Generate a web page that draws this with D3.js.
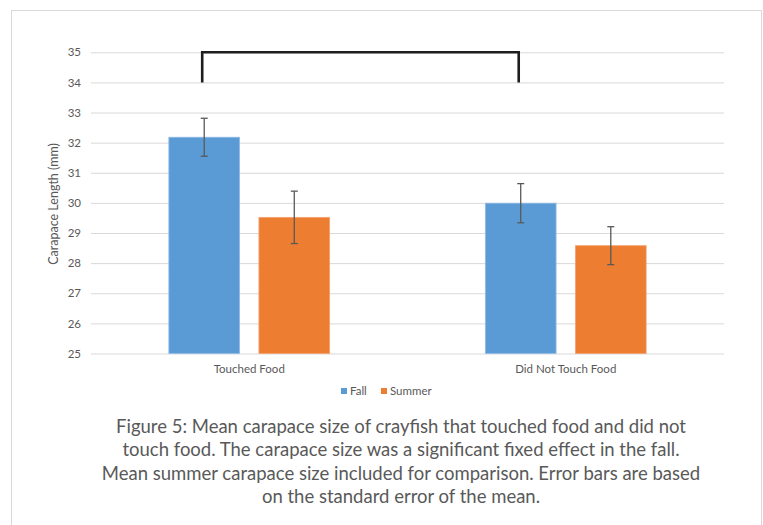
<!DOCTYPE html>
<html>
<head>
<meta charset="utf-8">
<script src="https://cdn.jsdelivr.net/npm/d3@7/dist/d3.min.js"></script>
<style>
  html, body { margin: 0; padding: 0; background: #fff; }
  svg { display: block; }
  text { font-family: Lato, "Open Sans", sans-serif; }
</style>
</head>
<body>
<svg id="chart" width="763" height="525"></svg>
<script>
// Mean carapace length (mm) by feeding behaviour and season
const categories = ["Touched Food", "Did Not Touch Food"];
const seriesNames = ["Fall", "Summer"];
const fallMeans = [32.18, 29.99];
const summerMeans = [29.52, 28.58];
const fallSE = [0.63, 0.65];
const summerSE = [0.87, 0.63];
const yTicks = [25, 26, 27, 28, 29, 30, 31, 32, 33, 34, 35];
const captionLines = [
  "Figure 5: Mean carapace size of crayfish that touched food and did not",
  "touch food. The carapace size was a significant fixed effect in the fall.",
  "Mean summer carapace size included for comparison. Error bars are based",
  "on the standard error of the mean."
];
const colors = ["#5B9BD5", "#ED7D31"];

const svg = d3.select("#chart");

// outer frame
svg.append("rect")
  .attr("x", 11.5).attr("y", 10.5)
  .attr("width", 750).attr("height", 530)
  .attr("fill", "#fff").attr("stroke", "#d9d9d9").attr("stroke-width", 1);

const plot = { left: 91, right: 724, top: 52.3, bottom: 353.5 };

const y = d3.scaleLinear().domain([25, 35]).range([plot.bottom, plot.top]);
const x0 = d3.scaleBand().domain(categories).range([plot.left, plot.right]).paddingInner(0).paddingOuter(0);
// bar group inside each category band
const groupWidth = x0.bandwidth() * 0.508;
const x1 = d3.scaleBand().domain(seriesNames)
  .range([0, groupWidth]).paddingInner(0.215).paddingOuter(0);

// gridlines and tick labels
const yAxis = d3.axisLeft(y).tickValues(yTicks).tickSize(-(plot.right - plot.left)).tickPadding(10);
const gy = svg.append("g").attr("transform", `translate(${plot.left},0)`).call(yAxis);
gy.select(".domain").remove();
gy.selectAll(".tick line").attr("stroke", "#d9d9d9").attr("stroke-width", 1);
gy.selectAll(".tick text").attr("fill", "#595959").attr("font-size", 11.5)
  .style("font-family", "Lato, sans-serif");

// y-axis title
svg.append("text")
  .attr("transform", `translate(58,${(plot.top + plot.bottom) / 2 + 1}) rotate(-90)`)
  .attr("text-anchor", "middle")
  .attr("fill", "#595959").attr("font-size", 12.5)
  .text("Carapace Length (mm)");

// bars
const rows = categories.map((c, i) => ({
  category: c,
  values: [
    { series: "Fall", mean: fallMeans[i], se: fallSE[i] },
    { series: "Summer", mean: summerMeans[i], se: summerSE[i] }
  ]
}));

const groups = svg.append("g").selectAll("g").data(rows).join("g")
  .attr("transform", d => `translate(${x0(d.category) + (x0.bandwidth() - groupWidth) / 2},0)`);

groups.selectAll("rect").data(d => d.values).join("rect")
  .attr("x", d => x1(d.series))
  .attr("y", d => y(d.mean))
  .attr("width", x1.bandwidth())
  .attr("height", d => y(25) - y(d.mean))
  .attr("fill", (d, i) => colors[i])
  .attr("stroke", (d, i) => i === 0 ? "#8fbbe6" : "#f3a26f")
  .attr("stroke-width", 0.8);

// error bars
const eb = groups.selectAll("g.err").data(d => d.values).join("g").attr("class", "err")
  .attr("stroke", "#595959").attr("stroke-width", 1.3);
eb.append("line")
  .attr("x1", d => x1(d.series) + x1.bandwidth() / 2)
  .attr("x2", d => x1(d.series) + x1.bandwidth() / 2)
  .attr("y1", d => y(d.mean + d.se))
  .attr("y2", d => y(d.mean - d.se));
[1, -1].forEach(s => {
  eb.append("line")
    .attr("x1", d => x1(d.series) + x1.bandwidth() / 2 - 3.5)
    .attr("x2", d => x1(d.series) + x1.bandwidth() / 2 + 3.5)
    .attr("y1", d => y(d.mean + s * d.se))
    .attr("y2", d => y(d.mean + s * d.se));
});

// significance bracket between the two fall bars
const fallCenter = c => x0(c) + (x0.bandwidth() - groupWidth) / 2 + x1("Fall") + x1.bandwidth() / 2 - 2;
const bx1 = fallCenter(categories[0]);
const bx2 = fallCenter(categories[1]);
svg.append("path")
  .attr("d", `M${bx1},${y(34)}V${y(35)}H${bx2}V${y(34)}`)
  .attr("fill", "none").attr("stroke", "#1e1e1e").attr("stroke-width", 2.6);

// category labels
svg.append("g").selectAll("text").data(categories).join("text")
  .attr("x", d => x0(d) + x0.bandwidth() / 2)
  .attr("y", 373)
  .attr("text-anchor", "middle")
  .attr("fill", "#595959").attr("font-size", 11.5)
  .text(d => d);

// legend
const legend = svg.append("g");
const legendItems = [{ name: "Fall", x: 341 }, { name: "Summer", x: 381 }];
legendItems.forEach((d, i) => {
  legend.append("rect").attr("x", d.x).attr("y", 388).attr("width", 6).attr("height", 6).attr("fill", colors[i]);
  legend.append("text").attr("x", d.x + 9).attr("y", 395)
    .attr("fill", "#595959").attr("font-size", 11.5).text(d.name);
});

// caption
svg.append("g").selectAll("text").data(captionLines).join("text")
  .attr("x", 401)
  .attr("y", (d, i) => 433 + i * 23.4)
  .attr("text-anchor", "middle")
  .attr("fill", "#595959")
  .attr("font-size", 18.5)
  .text(d => d);
</script>
</body>
</html>
